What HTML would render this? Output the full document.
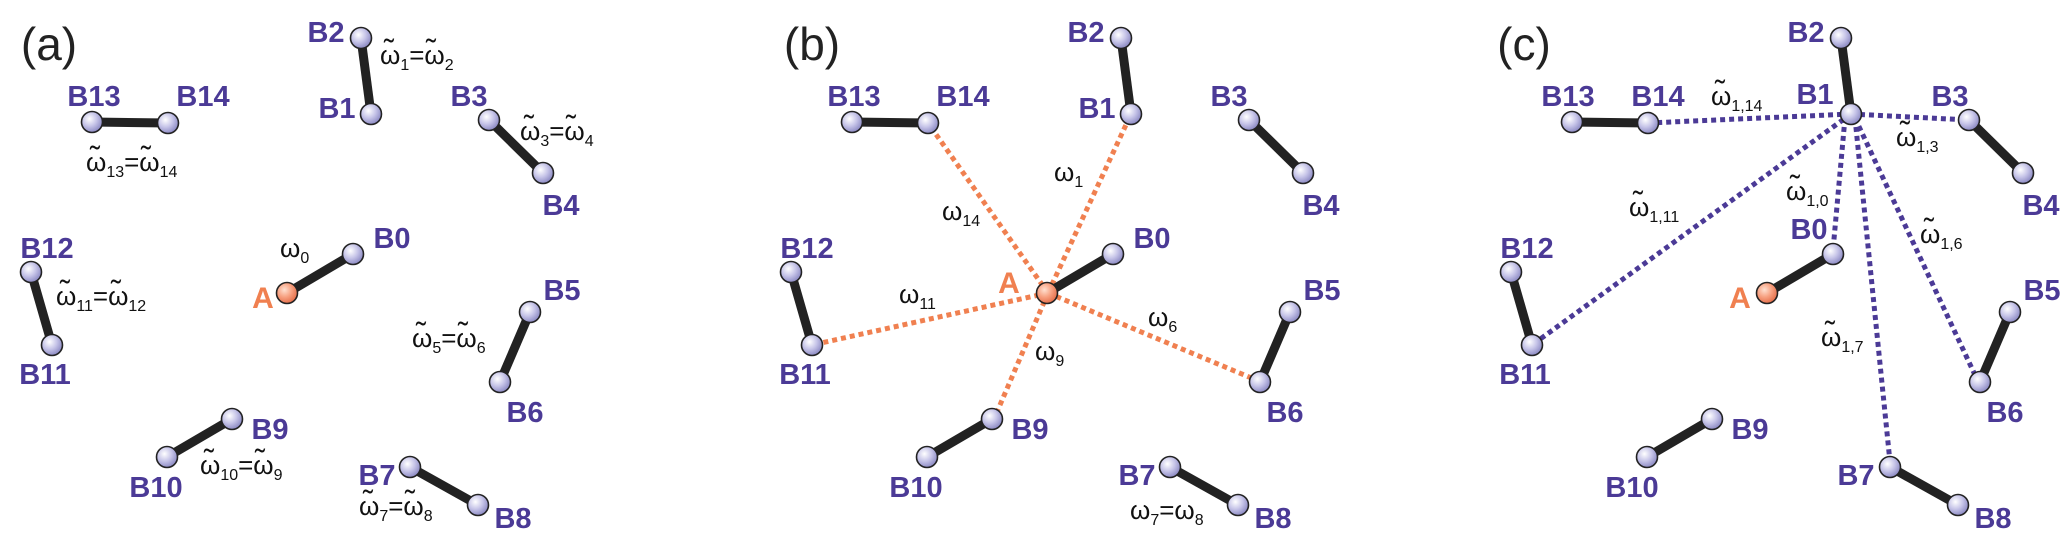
<!DOCTYPE html>
<html><head><meta charset="utf-8"><style>
html,body{margin:0;padding:0;background:#fff;}
svg{display:block;}
.L{font-family:"Liberation Sans",sans-serif;font-weight:bold;font-size:29px;fill:#4b3a96;text-anchor:middle;}
.P{font-family:"Liberation Sans",sans-serif;font-size:46px;fill:#222;text-anchor:middle;}
.W{font-family:"Liberation Sans","DejaVu Sans",sans-serif;font-size:26px;fill:#111;}
.S{font-size:16px;}
.T{font-family:"Liberation Sans","DejaVu Sans",sans-serif;font-size:30px;fill:#111;text-anchor:middle;}
.A{font-family:"Liberation Sans",sans-serif;font-weight:bold;font-size:30px;fill:#f08050;text-anchor:middle;}
</style></head><body>
<svg width="2067" height="546" viewBox="0 0 2067 546" xmlns="http://www.w3.org/2000/svg">
<defs>
<radialGradient id="g" cx="0.38" cy="0.35" r="0.7">
<stop offset="0" stop-color="#ffffff"/><stop offset="0.5" stop-color="#c6c4e8"/><stop offset="1" stop-color="#8583bf"/>
</radialGradient>
<radialGradient id="o" cx="0.38" cy="0.35" r="0.7">
<stop offset="0" stop-color="#ffe0d0"/><stop offset="0.5" stop-color="#f7a080"/><stop offset="1" stop-color="#e36a45"/>
</radialGradient>
<g id="m">
<g stroke="#222" stroke-width="9">
<line x1="361" y1="38" x2="371" y2="114"/>
<line x1="92" y1="122" x2="168" y2="123"/>
<line x1="489" y1="120" x2="543" y2="173"/>
<line x1="353" y1="254" x2="287" y2="293"/>
<line x1="31" y1="272" x2="52" y2="345"/>
<line x1="530" y1="312" x2="500" y2="382"/>
<line x1="232" y1="419" x2="167" y2="457"/>
<line x1="410" y1="467" x2="478" y2="505"/>
</g>
<g fill="url(#g)" stroke="#222" stroke-width="1.6">
<circle cx="361" cy="38" r="10.5"/><circle cx="371" cy="114" r="10.5"/>
<circle cx="92" cy="122" r="10.5"/><circle cx="168" cy="123" r="10.5"/>
<circle cx="489" cy="120" r="10.5"/><circle cx="543" cy="173" r="10.5"/>
<circle cx="353" cy="254" r="10.5"/>
<circle cx="31" cy="272" r="10.5"/><circle cx="52" cy="345" r="10.5"/>
<circle cx="530" cy="312" r="10.5"/><circle cx="500" cy="382" r="10.5"/>
<circle cx="232" cy="419" r="10.5"/><circle cx="167" cy="457" r="10.5"/>
<circle cx="410" cy="467" r="10.5"/><circle cx="478" cy="505" r="10.5"/>
</g>
<circle cx="287" cy="293" r="10.5" fill="url(#o)" stroke="#222" stroke-width="1.6"/>
</g>
</defs>

<g stroke="#f08050" stroke-width="5" stroke-dasharray="5 4" fill="none">
<line x1="1048" y1="293" x2="928" y2="123"/>
<line x1="1048" y1="293" x2="1131" y2="114"/>
<line x1="1048" y1="293" x2="812" y2="345"/>
<line x1="1048" y1="293" x2="1261" y2="382"/>
<line x1="1048" y1="293" x2="994" y2="419"/>
</g>
<g stroke="#4b3a96" stroke-width="5" stroke-dasharray="5 4" fill="none">
<line x1="1851" y1="114" x2="1648" y2="123"/>
<line x1="1851" y1="114" x2="1969" y2="120"/>
<line x1="1851" y1="114" x2="1532" y2="345"/>
<line x1="1845" y1="118" x2="1833" y2="250"/>
<line x1="1855" y1="118" x2="1890" y2="462"/>
<line x1="1855" y1="118" x2="1975" y2="375"/>
</g>

<use href="#m"/>
<use href="#m" x="760"/>
<use href="#m" x="1480"/>

<text class="P" x="49" y="60">(a)</text>
<text class="P" x="812" y="60">(b)</text>
<text class="P" x="1524" y="60">(c)</text>

<g class="L">
<text x="326" y="42">B2</text><text x="94" y="106">B13</text><text x="203" y="106">B14</text>
<text x="337" y="118">B1</text><text x="469" y="106">B3</text><text x="561" y="215">B4</text>
<text x="392" y="248">B0</text><text x="47" y="258">B12</text><text x="45" y="384">B11</text>
<text x="562" y="300">B5</text><text x="525" y="422">B6</text><text x="270" y="439">B9</text>
<text x="156" y="497">B10</text><text x="377" y="485">B7</text><text x="513" y="528">B8</text>
</g>
<text class="A" x="263" y="308">A</text>
<g class="W">
<text x="380" y="64">ω<tspan class="S" dy="6">1</tspan><tspan dy="-6">=ω</tspan><tspan class="S" dy="6">2</tspan></text>
<text x="86" y="171">ω<tspan class="S" dy="6">13</tspan><tspan dy="-6">=ω</tspan><tspan class="S" dy="6">14</tspan></text>
<text x="520" y="140">ω<tspan class="S" dy="6">3</tspan><tspan dy="-6">=ω</tspan><tspan class="S" dy="6">4</tspan></text>
<text x="280" y="257">ω<tspan class="S" dy="6">0</tspan></text>
<text x="56" y="305">ω<tspan class="S" dy="6">11</tspan><tspan dy="-6">=ω</tspan><tspan class="S" dy="6">12</tspan></text>
<text x="412" y="347">ω<tspan class="S" dy="6">5</tspan><tspan dy="-6">=ω</tspan><tspan class="S" dy="6">6</tspan></text>
<text x="200" y="474">ω<tspan class="S" dy="6">10</tspan><tspan dy="-6">=ω</tspan><tspan class="S" dy="6">9</tspan></text>
<text x="359" y="515">ω<tspan class="S" dy="6">7</tspan><tspan dy="-6">=ω</tspan><tspan class="S" dy="6">8</tspan></text>
</g>
<g class="T">
<text x="389" y="60">˜</text><text x="431" y="60">˜</text>
<text x="95" y="167">˜</text><text x="146" y="167">˜</text>
<text x="529" y="136">˜</text><text x="571" y="136">˜</text>
<text x="65" y="301">˜</text><text x="116" y="301">˜</text>
<text x="421" y="343">˜</text><text x="463" y="343">˜</text>
<text x="209" y="470">˜</text><text x="260" y="470">˜</text>
<text x="368" y="511">˜</text><text x="410" y="511">˜</text>
</g>

<g class="L">
<text x="1086" y="42">B2</text><text x="854" y="106">B13</text><text x="963" y="106">B14</text>
<text x="1097" y="118">B1</text><text x="1229" y="106">B3</text><text x="1321" y="215">B4</text>
<text x="1152" y="248">B0</text><text x="807" y="258">B12</text><text x="805" y="384">B11</text>
<text x="1322" y="300">B5</text><text x="1285" y="422">B6</text><text x="1030" y="439">B9</text>
<text x="916" y="497">B10</text><text x="1137" y="485">B7</text><text x="1273" y="528">B8</text>
</g>
<text class="A" x="1009" y="293">A</text>
<g class="W">
<text x="1054" y="181">ω<tspan class="S" dy="6">1</tspan></text>
<text x="942" y="220">ω<tspan class="S" dy="6">14</tspan></text>
<text x="899" y="303">ω<tspan class="S" dy="6">11</tspan></text>
<text x="1148" y="326">ω<tspan class="S" dy="6">6</tspan></text>
<text x="1035" y="360">ω<tspan class="S" dy="6">9</tspan></text>
<text x="1130" y="519">ω<tspan class="S" dy="6">7</tspan><tspan dy="-6">=ω</tspan><tspan class="S" dy="6">8</tspan></text>
</g>

<g class="L">
<text x="1806" y="42">B2</text><text x="1568" y="106">B13</text><text x="1658" y="106">B14</text>
<text x="1815" y="104">B1</text><text x="1950" y="106">B3</text><text x="2041" y="215">B4</text>
<text x="1809" y="239">B0</text><text x="1527" y="258">B12</text><text x="1525" y="384">B11</text>
<text x="2042" y="300">B5</text><text x="2005" y="422">B6</text><text x="1750" y="439">B9</text>
<text x="1632" y="497">B10</text><text x="1856" y="485">B7</text><text x="1993" y="528">B8</text>
</g>
<text class="A" x="1740" y="308">A</text>
<g class="W">
<text x="1711" y="105">ω<tspan class="S" dy="6">1,14</tspan></text>
<text x="1896" y="146">ω<tspan class="S" dy="6">1,3</tspan></text>
<text x="1786" y="200">ω<tspan class="S" dy="6">1,0</tspan></text>
<text x="1629" y="216">ω<tspan class="S" dy="6">1,11</tspan></text>
<text x="1920" y="243">ω<tspan class="S" dy="6">1,6</tspan></text>
<text x="1821" y="346">ω<tspan class="S" dy="6">1,7</tspan></text>
</g>
<g class="T">
<text x="1720" y="101">˜</text>
<text x="1905" y="142">˜</text>
<text x="1795" y="196">˜</text>
<text x="1638" y="212">˜</text>
<text x="1929" y="239">˜</text>
<text x="1830" y="342">˜</text>
</g>
</svg>
</body></html>
